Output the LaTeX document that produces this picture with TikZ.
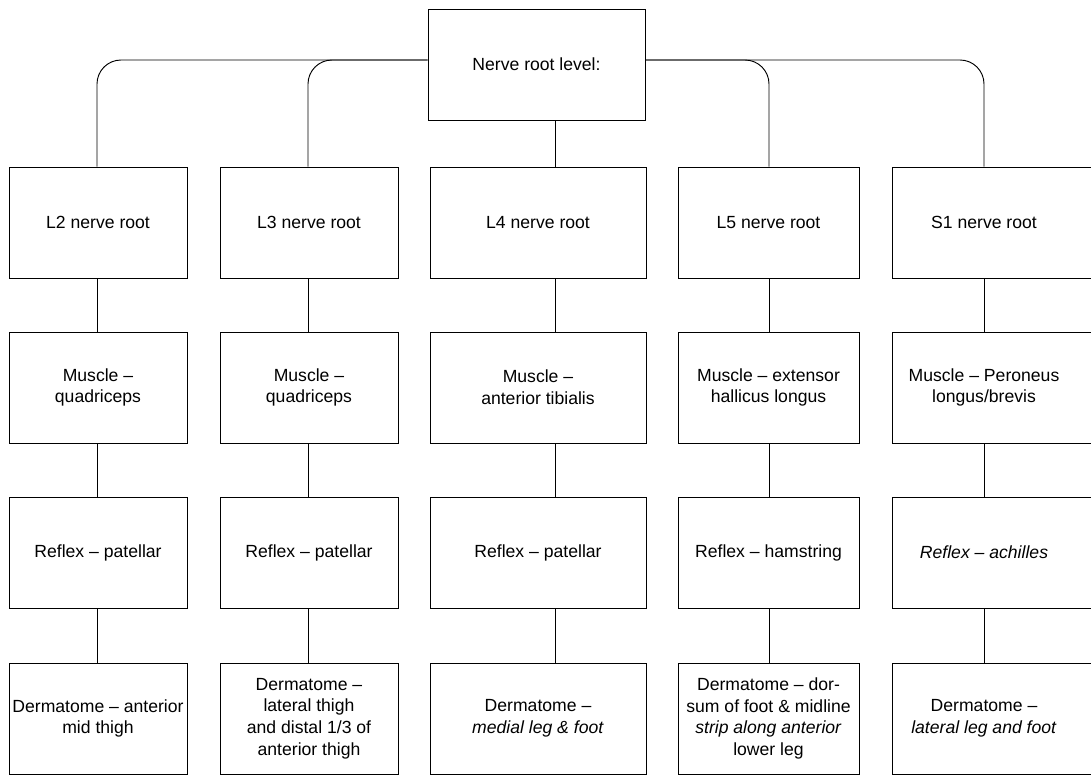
\documentclass[tikz,border=0pt]{standalone}
\usepackage{fontspec}
\setmainfont{Liberation Sans}
\begin{document}
\begin{tikzpicture}[x=0.75pt,y=-0.75pt,
  every node/.style={font=\fontsize{13.2pt}{16.3pt}\selectfont},
  box/.style={draw, line width=0.7pt, align=center, minimum height=83.25pt, inner sep=2pt},
  wA/.style={box, minimum width=133.5pt},
  wB/.style={box, minimum width=162pt},
  wC/.style={box, minimum width=135.75pt},
  wD/.style={box, minimum width=163.5pt},
  txt/.style={align=center, inner sep=0pt},
  link/.style={line width=0.7pt},
  branch/.style={link, rounded corners=18pt}
]
\clip (0,0) rectangle (1091,775);

% column connector x positions
\coordinate (x1) at (97,0);
\coordinate (x2) at (308,0);
\coordinate (x3) at (555,0);
\coordinate (x4) at (769,0);
\coordinate (x5) at (984,0);
\coordinate (h) at (0,60);

\node[box, minimum width=162.75pt] (top) at (536.5,64.5) {Nerve root level:};

% row 1
\node[wA] (n11) at (98,222.5) {L2 nerve root};
\node[wA] (n12) at (309,222.5) {L3 nerve root};
\node[wB] (n13) at (538,222.5) {L4 nerve root};
\node[wC] (n14) at (768.5,222.5) {L5 nerve root};
\node[wD] (n15) at (1001,222.5) {};
\node[txt] (t15) at (984,222.5) {S1 nerve root};

% row 2
\node[wA] (n21) at (98,387.5) {Muscle --\\quadriceps};
\node[wA] (n22) at (309,387.5) {Muscle --\\quadriceps};
\node[wB] (n23) at (538,387.5) {Muscle --\\anterior tibialis};
\node[wC] (n24) at (768.5,387.5) {Muscle -- extensor\\hallicus longus};
\node[wD] (n25) at (1001,387.5) {};
\node[txt] (t25) at (984,387.5) {Muscle -- Peroneus\\longus/brevis};

% row 3
\node[wA] (n31) at (98,552.5) {Reflex -- patellar};
\node[wA] (n32) at (309,552.5) {Reflex -- patellar};
\node[wB] (n33) at (538,552.5) {Reflex -- patellar};
\node[wC] (n34) at (768.5,552.5) {Reflex -- hamstring};
\node[wD] (n35) at (1001,552.5) {};
\node[txt] (t35) at (984,552.5) {\textit{Reflex -- achilles}};

% row 4
\node[wA] (n41) at (98,718.5) {Dermatome -- anterior\\mid thigh};
\node[wA] (n42) at (309,718.5) {Dermatome --\\lateral thigh\\and distal 1/3 of\\anterior thigh};
\node[wB] (n43) at (538,718.5) {Dermatome --\\\textit{medial leg \& foot}};
\node[wC] (n44) at (768.5,718.5) {Dermatome -- dor-\\sum of foot \& midline\\\textit{strip along anterior}\\lower leg};
\node[wD] (n45) at (1001,718.5) {};
\node[txt] (t45) at (984,718.5) {Dermatome --\\\textit{lateral leg and foot}};

% vertical connectors between rows
\foreach \c in {1,...,5}{
  \foreach \r/\s in {1/2,2/3,3/4}{
    \draw[link] (n\r\c.south -| x\c) -- (n\s\c.north -| x\c);
  }
}

% top connectors
\draw[branch] (top.west |- h) -| (n11.north -| x1);
\draw[branch] (top.west |- h) -| (n12.north -| x2);
\draw[link] (top.south -| x3) -- (n13.north -| x3);
\draw[branch] (top.east |- h) -| (n14.north -| x4);
\draw[branch] (top.east |- h) -| (n15.north -| x5);
\end{tikzpicture}
\end{document}
